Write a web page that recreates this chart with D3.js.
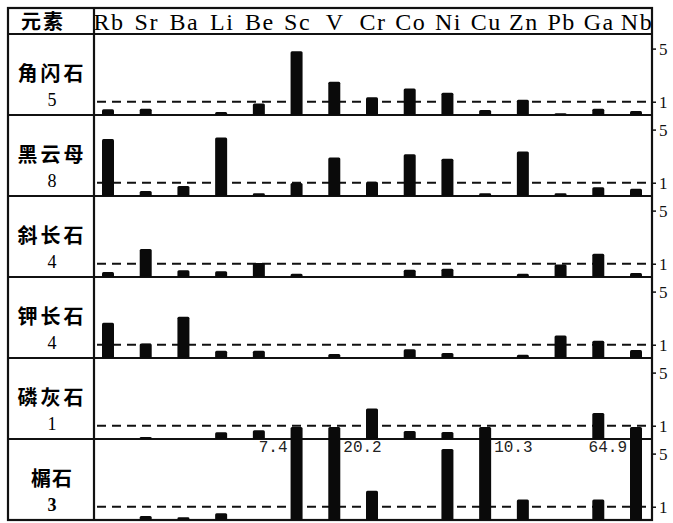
<!DOCTYPE html>
<html>
<head>
<meta charset="utf-8">
<script src="https://cdn.jsdelivr.net/npm/d3@7"></script>
<style>
  body { margin: 0; background: #fff; }
</style>
</head>
<body>
<div id="vis"></div>
<script>
const width = 673
const height = 523

// data
const elements = ["Rb", "Sr", "Ba", "Li", "Be", "Sc", "V", "Cr", "Co", "Ni", "Cu", "Zn", "Pb", "Ga", "Nb"]
const minerals = ["角闪石", "黑云母", "斜长石", "钾长石", "磷灰石", "榍石"]
const sampleCounts = [5, 8, 4, 4, 1, 3]
const hornblende = [0.44, 0.48, 0, 0.23, 0.87, 4.8, 2.5, 1.33, 2.0, 1.67, 0.38, 1.15, 0.13, 0.48, 0.3]
const biotite = [4.3, 0.38, 0.76, 4.4, 0.2, 0.98, 2.9, 1.08, 3.15, 2.8, 0.2, 3.35, 0.2, 0.66, 0.55]
const plagioclase = [0.38, 2.1, 0.5, 0.43, 1.05, 0.25, 0, 0, 0.55, 0.63, 0, 0.25, 0.95, 1.75, 0.3]
const kfeldspar = [2.65, 1.1, 3.1, 0.55, 0.55, 0, 0.3, 0, 0.65, 0.38, 0, 0.25, 1.7, 1.3, 0.6]
const apatite = [0, 0.15, 0, 0.5, 0.65, 0, 0, 2.3, 0.6, 0.53, 0, 0, 0, 1.95, 0]
const sphene = [0, 0.3, 0.2, 0.5, 0, 7.4, 20.2, 2.2, 0, 5.35, 10.3, 1.55, 0, 1.55, 64.9]
const tickValues = [1, 5]
const labelLeft = ["Sc", "Nb"] // off-scale labels written left of the bar

const series = [hornblende, biotite, plagioclase, kfeldspar, apatite, sphene]

// layout
const tableLeft = 8, labelCol = 94, tableRight = 652
const tableTop = 8, headerBottom = 34, rowH = 81
const tableBottom = headerBottom + series.length * rowH
const cap = 7 // off-scale bars are cut here
const barW = 12

var svg = d3.select("#vis")
    .append("svg")
    .attr("width", width)
    .attr("height", height)

var x = d3.scalePoint()
    .domain(elements)
    .range([108, 636])

// table lines
const lines = svg.append("g").attr("stroke", "#111").attr("stroke-width", 2.2).attr("fill", "none")
lines.append("rect")
    .attr("x", tableLeft).attr("y", tableTop)
    .attr("width", tableRight - tableLeft).attr("height", tableBottom - tableTop)
lines.append("line")
    .attr("x1", labelCol).attr("x2", labelCol)
    .attr("y1", tableTop).attr("y2", tableBottom)
lines.selectAll("line.row")
    .data(d3.range(series.length))
    .join("line")
    .attr("class", "row")
    .attr("x1", tableLeft).attr("x2", tableRight)
    .attr("y1", i => headerBottom + i * rowH)
    .attr("y2", i => headerBottom + i * rowH)

// header
svg.append("text")
    .attr("x", 43).attr("y", 29)
    .attr("text-anchor", "middle")
    .attr("font-family", "Noto Sans CJK SC")
    .attr("font-weight", "bold")
    .attr("font-size", "20px")
    .attr("letter-spacing", "2px")
    .text("元素")

svg.append("g").selectAll("text")
    .data(elements)
    .join("text")
    .attr("x", d => x(d) + 1)
    .attr("y", 30)
    .attr("text-anchor", "middle")
    .attr("font-family", "Liberation Serif")
    .attr("font-size", "24px")
    .attr("letter-spacing", "1.5px")
    .text(d => d)

series.forEach((values, i) => {
    const y0 = headerBottom + i * rowH
    const y1 = y0 + rowH
    var y = d3.scaleLinear().domain([0, 6.1]).range([y1, y0])
    const g = svg.append("g")

    // dashed reference at 1
    g.append("line")
        .attr("x1", labelCol + 3).attr("x2", tableRight - 2)
        .attr("y1", y(1)).attr("y2", y(1))
        .attr("stroke", "#111")
        .attr("stroke-width", 2)
        .attr("stroke-dasharray", "9,6")

    // right axis ticks
    const axis = d3.axisRight(y).tickValues(tickValues).tickSize(4).tickFormat(d3.format("d"))
    g.append("g")
        .attr("transform", `translate(${tableRight},0)`)
        .call(axis)
        .call(a => a.select(".domain").remove())
        .call(a => a.selectAll("text")
            .attr("font-family", "Liberation Serif")
            .attr("font-size", "17px")
            .attr("fill", "#111"))
        .call(a => a.selectAll("line").attr("stroke", "#111").attr("stroke-width", 1.5))

    // mineral name and sample count
    g.append("text")
        .attr("x", 52).attr("y", y0 + 47)
        .attr("text-anchor", "middle")
        .attr("font-family", "Noto Sans CJK SC")
        .attr("font-weight", "bold")
        .attr("font-size", "20px")
        .attr("letter-spacing", minerals[i].length == 2 ? "1px" : "3px")
        .text(minerals[i])
    g.append("text")
        .attr("x", 52).attr("y", y0 + 72)
        .attr("text-anchor", "middle")
        .attr("font-family", "Liberation Serif")
        .attr("font-weight", i == 5 ? "bold" : "normal")
        .attr("font-size", "18px")
        .text(sampleCounts[i])

    const data = elements.map((e, j) => ({ el: e, v: values[j] }))

    g.selectAll("rect")
        .data(data.filter(d => d.v > 0))
        .join("rect")
        .attr("x", d => x(d.el) - barW / 2)
        .attr("width", barW)
        .attr("y", d => y(Math.min(d.v, cap)))
        .attr("height", d => y1 - y(Math.min(d.v, cap)))
        .attr("rx", 1.5)
        .attr("fill", "#0a0a0a")

    // values of bars that run off the scale
    g.selectAll("text.over")
        .data(data.filter(d => d.v > cap))
        .join("text")
        .attr("class", "over")
        .attr("x", d => labelLeft.includes(d.el) ? x(d.el) - barW / 2 - 3 : x(d.el) + barW / 2 + 3)
        .attr("y", y(5.1))
        .attr("text-anchor", d => labelLeft.includes(d.el) ? "end" : "start")
        .attr("font-family", "Liberation Mono")
        .attr("font-size", "16px")
        .attr("fill", "#222")
        .text(d => d.v)
})
</script>
</body>
</html>
